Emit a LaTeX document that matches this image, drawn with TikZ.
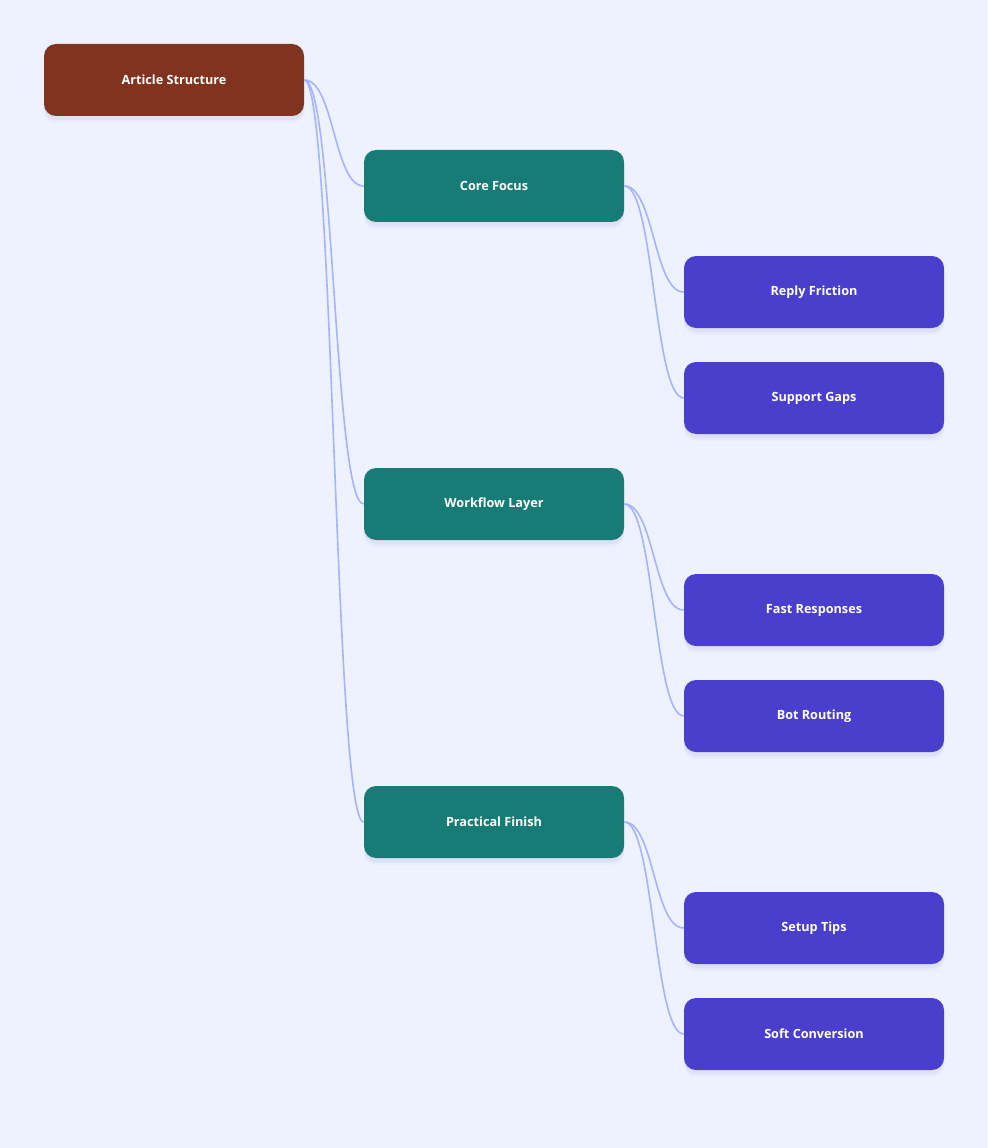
\documentclass[tikz,border=0pt]{standalone}
\usepackage{fontspec}
\setmainfont{Open Sans}
\definecolor{bgcol}{HTML}{EEF2FF}
\definecolor{rootcol}{HTML}{80331E}
\definecolor{midcol}{HTML}{187C76}
\definecolor{leafcol}{HTML}{4A3FCD}
\definecolor{linkcol}{HTML}{A5B4FC}
\definecolor{shadecol}{HTML}{6366A0}

\tikzset{
	box/.style={rectangle,rounded corners=9pt,minimum width=195pt,minimum height=54pt,
		text=white,font=\bfseries\fontsize{9.5}{12}\selectfont,
		preaction={fill=shadecol,fill opacity=0.07,transform canvas={yshift=-3pt}},
		preaction={fill=shadecol,fill opacity=0.05,transform canvas={yshift=-5pt}}},
	link/.style={draw=linkcol,line width=1.2pt}
}

\begin{document}
\begin{tikzpicture}[x=0.75pt,y=-0.75pt]

\fill [bgcol] (0,0) rectangle (988,1148);
\useasboundingbox (0,0) rectangle (988,1148);

\node [box,fill=rootcol] (root) at (174,80) {Article Structure};

\node [box,fill=midcol] (core) at (494,186) {Core Focus};
\node [box,fill=midcol] (flow) at (494,504) {Workflow Layer};
\node [box,fill=midcol] (finish) at (494,822) {Practical Finish};

\node [box,fill=leafcol] (friction) at (814,292) {Reply Friction};
\node [box,fill=leafcol] (gaps) at (814,398) {Support Gaps};
\node [box,fill=leafcol] (fast) at (814,610) {Fast Responses};
\node [box,fill=leafcol] (bot) at (814,716) {Bot Routing};
\node [box,fill=leafcol] (tips) at (814,928) {Setup Tips};
\node [box,fill=leafcol] (soft) at (814,1034) {Soft Conversion};

\foreach \p/\c in {root/core,root/flow,root/finish,
		core/friction,core/gaps,flow/fast,flow/bot,finish/tips,finish/soft} {
	\draw [link] (\p.east) .. controls ([xshift=22.5pt]\p.east) and ([xshift=-22.5pt]\c.west) .. (\c.west);
}

\end{tikzpicture}
\end{document}
